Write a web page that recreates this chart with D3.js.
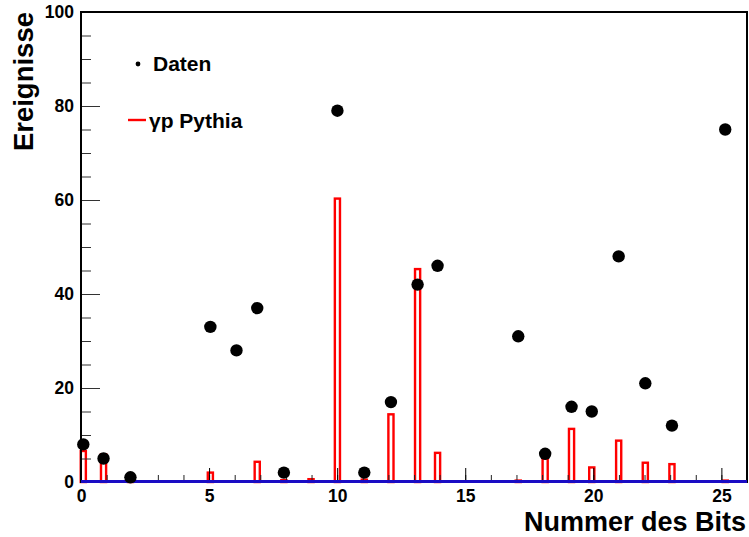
<!DOCTYPE html>
<html>
<head>
<meta charset="utf-8">
<script src="https://cdn.jsdelivr.net/npm/d3@7"></script>
<style>
  html, body { margin: 0; padding: 0; background: #fff; }
  svg { display: block; }
  text { font-family: "Liberation Sans", Arial, Helvetica, sans-serif; font-weight: bold; }
</style>
</head>
<body>
<svg id="chart" width="749" height="537"></svg>
<script>
// Measured events per bit (data points)
const dataBits   = [0, 1, 2, 5, 6, 7, 8, 10, 11, 12, 13, 14, 17, 18, 19, 20, 21, 22, 23, 25];
const dataPos    = [0.09, 0.88, 1.93, 5.05, 6.07, 6.88, 7.92, 10.01, 11.06, 12.1, 13.14, 13.92, 17.07, 18.12, 19.15, 19.94, 20.99, 22.03, 23.07, 25.15];
const dataCounts = [8, 5, 1, 33, 28, 37, 2, 79, 2, 17, 42, 46, 31, 6, 16, 15, 48, 21, 12, 75];

// gamma-p Pythia simulation per bit (histogram bins)
const mcBits   = [0, 1, 2, 5, 7, 8, 9, 10, 11, 12, 13, 14, 17, 18, 19, 20, 21, 22, 23, 25];
const mcPos    = [0.09, 0.88, 1.93, 5.05, 6.88, 7.92, 8.98, 10.01, 11.06, 12.1, 13.14, 13.92, 17.07, 18.12, 19.15, 19.94, 20.99, 22.03, 23.07, 25.15];
const mcValues = [6.6, 5.9, 0.6, 2.0, 4.3, 0.4, 0.6, 60.3, 0.5, 14.4, 45.3, 6.2, 0.3, 5.0, 11.3, 3.1, 8.8, 4.1, 3.8, 0.3];

// Axis ticks and labels
const xMajorTicks = [0, 5, 10, 15, 20, 25];
const xMinorTicks = d3.range(0, 26, 1);
const yMajorTicks = [0, 20, 40, 60, 80, 100];
const yMinorTicks = d3.range(0, 101, 5);

const xTitle = "Nummer des Bits";
const yTitle = "Ereignisse";
const legendData = "Daten";
const legendMC = "\u03b3p Pythia";

const svg = d3.select("#chart");
const plotLeft = 81, plotRight = 747, plotTop = 12, plotBottom = 482;

const x = d3.scaleLinear().domain([0, 26]).range([plotLeft, plotRight]);
const y = d3.scaleLinear().domain([0, 100]).range([plotBottom, plotTop]);

const binW = 0.2; // histogram bar width in bit units

// Histogram bars (outlined)
svg.append("g")
  .selectAll("rect")
  .data(mcValues.map((v, i) => ({ v, p: mcPos[i] })))
  .join("rect")
  .attr("x", d => x(d.p - binW / 2))
  .attr("width", d => x(d.p + binW / 2) - x(d.p - binW / 2))
  .attr("y", d => y(d.v))
  .attr("height", d => y(0) - y(d.v))
  .attr("fill", "none")
  .attr("stroke", "#ff0000")
  .attr("stroke-width", 2.4);

// Minor ticks on x (pointing up into the plot)
const xMinorAxis = d3.axisBottom(x).tickValues(xMinorTicks).tickSize(-7).tickFormat("").tickSizeOuter(0);
const gxMinor = svg.append("g").attr("transform", `translate(0,${plotBottom})`).call(xMinorAxis);
gxMinor.select(".domain").remove();
gxMinor.selectAll("line").attr("stroke", "#222");

const xMajorAxis = d3.axisBottom(x).tickValues(xMajorTicks).tickSize(-14).tickPadding(8).tickSizeOuter(0);
const gxMajor = svg.append("g").attr("transform", `translate(0,${plotBottom})`).call(xMajorAxis);
gxMajor.select(".domain").remove();
gxMajor.selectAll("line").attr("stroke", "#000");
gxMajor.selectAll("text").attr("font-size", 17.5).attr("fill", "#000")
  .style("font-family", '"Liberation Sans", Arial, sans-serif').style("font-weight", "bold");

// y ticks
const yMinorAxis = d3.axisLeft(y).tickValues(yMinorTicks).tickSize(-10).tickFormat("").tickSizeOuter(0);
const gyMinor = svg.append("g").attr("transform", `translate(${plotLeft},0)`).call(yMinorAxis);
gyMinor.select(".domain").remove();
gyMinor.selectAll("line").attr("stroke", "#333");

const yMajorAxis = d3.axisLeft(y).tickValues(yMajorTicks).tickSize(-19).tickPadding(7).tickSizeOuter(0);
const gyMajor = svg.append("g").attr("transform", `translate(${plotLeft},0)`).call(yMajorAxis);
gyMajor.select(".domain").remove();
gyMajor.selectAll("line").attr("stroke", "#333");
gyMajor.selectAll("text").attr("font-size", 17.5).attr("fill", "#000")
  .style("font-family", '"Liberation Sans", Arial, sans-serif').style("font-weight", "bold");

// Frame
svg.append("rect")
  .attr("x", plotLeft).attr("y", plotTop)
  .attr("width", plotRight - plotLeft).attr("height", plotBottom - plotTop)
  .attr("fill", "none").attr("stroke", "#000").attr("stroke-width", 2);

// Empty-bin baseline of the second histogram
svg.append("line")
  .attr("x1", x(0)).attr("x2", x(26))
  .attr("y1", y(0) - 0.5).attr("y2", y(0) - 0.5)
  .attr("stroke", "#1a0cc4").attr("stroke-width", 3);

// Data points
svg.append("g")
  .selectAll("circle")
  .data(dataCounts.map((v, i) => ({ v, p: dataPos[i] })))
  .join("circle")
  .attr("cx", d => x(d.p))
  .attr("cy", d => y(d.v))
  .attr("r", 6.2)
  .attr("fill", "#000");

// Legend
svg.append("circle").attr("cx", 138).attr("cy", 64).attr("r", 2.4).attr("fill", "#000");
svg.append("text").attr("x", 153).attr("y", 71).attr("font-size", 21).text(legendData);
svg.append("line").attr("x1", 128).attr("x2", 146).attr("y1", 120).attr("y2", 120)
  .attr("stroke", "#ff0000").attr("stroke-width", 2.4);
svg.append("text").attr("x", 149).attr("y", 128).attr("font-size", 21).text(legendMC);

// Axis titles
svg.append("text")
  .attr("x", 746).attr("y", 531.2)
  .attr("text-anchor", "end")
  .attr("font-size", 27)
  .text(xTitle);

svg.append("text")
  .attr("transform", "translate(33,12) rotate(-90)")
  .attr("text-anchor", "end")
  .attr("font-size", 27.5)
  .text(yTitle);
</script>
</body>
</html>
